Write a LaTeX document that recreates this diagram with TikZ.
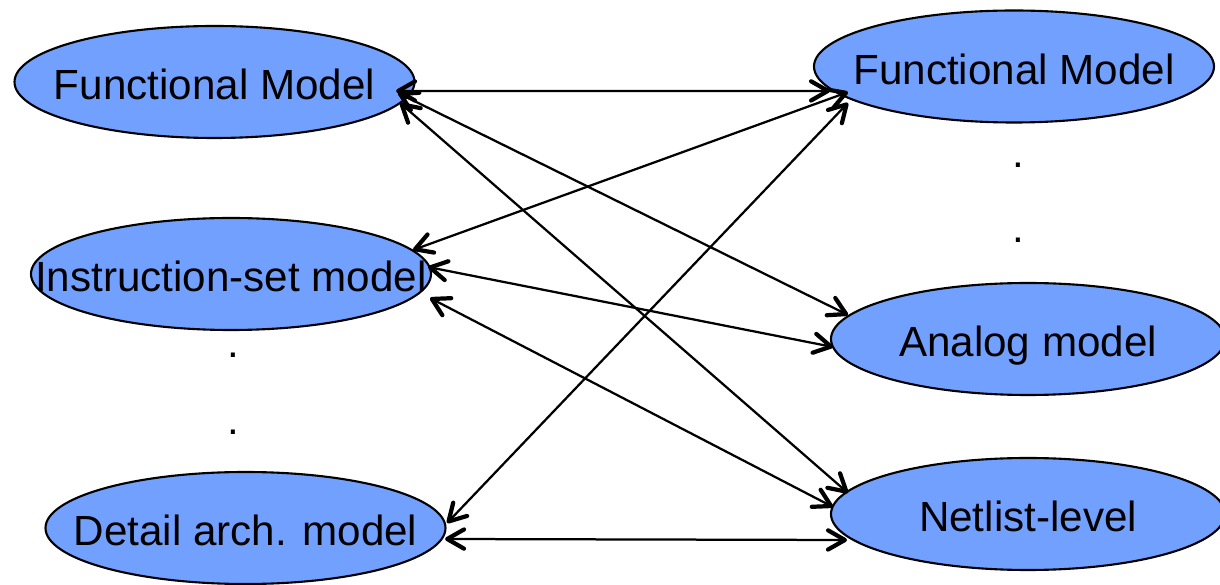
\documentclass[tikz,border=0pt]{standalone}
\usepackage{fontspec}
\setmainfont{Liberation Sans}
\usepackage{xcolor}
\usepackage{tikz}
\usetikzlibrary{calc, shapes, arrows.meta}
\definecolor{modelblue}{RGB}{114,160,255}
\tikzset{>={Straight Barb[length=0.42cm, width=0.48cm, line width=3pt, round]}}

\begin{document}
\begin{tikzpicture}[font=\fontsize{30}{36}\selectfont,
    model/.style={ellipse, draw=black, line width=1.5pt, fill=modelblue, minimum width=10cm, minimum height=2.8cm, inner sep=0pt},
    every label/.style={text height=21.5pt, text depth=0pt, inner sep=0pt, yshift=-2pt},
    link/.style={<->, line width=1.6pt}]
    \useasboundingbox (0,0) rectangle (30.5,14.6);

    % Coordinates
    \coordinate (L1) at (5.3625,12.55);
    \coordinate (L2) at (5.775,7.75);
    \coordinate (L3) at (6.1375,1.4);
    \coordinate (R1) at (25.35,12.9375);
    \coordinate (R2) at (25.7,6.125);
    \coordinate (R3) at (25.7,1.75);

    % Left models
    \node[model, label=center:Functional Model] (funcL) at (L1) {};
    \node[model, label=center:Instruction-set model] (instr) at (L2) {};
    \node[model, label=center:Detail arch. model] (detail) at (L3) {};

    % Right models
    \node[model, label=center:Functional Model] (funcR) at (R1) {};
    \node[model, minimum width=9.85cm, label=center:Analog model] (analog) at (R2) {};
    \node[model, minimum width=9.85cm, label=center:Netlist-level] (netlist) at (R3) {};

    % Dots
    \node (dotL1) at (5.825,5.725) {.};
    \node (dotL2) at (5.825,3.8) {.};
    \node (dotR1) at (25.45,10.475) {.};
    \node (dotR2) at (25.45,8.6) {.};

    % Links from the functional model
    \draw[link] ($(funcL.center)+(4.54,-0.225)$) -- ($(funcR.center)+(-4.6,-0.61)$);
    \draw[link] ($(funcL.center)+(4.59,-0.275)$) -- ($(analog.center)+(-4.5,0.6)$);
    \draw[link] ($(funcL.center)+(4.64,-0.525)$) -- ($(netlist.center)+(-4.5,0.525)$);

    % Links from the instruction-set model
    \draw[link] ($(instr.center)+(4.55,0.6)$) -- ($(funcR.center)+(-4.15,-0.64)$);
    \draw[link] ($(instr.center)+(4.925,0.175)$) -- ($(analog.center)+(-4.875,-0.2)$);
    \draw[link] ($(instr.center)+(4.975,-0.6)$) -- ($(netlist.center)+(-4.875,0.175)$);

    % Links from the detail model
    \draw[link] ($(detail.center)+(5.04,0.125)$) -- ($(funcR.center)+(-4.15,-0.91)$);
    \draw[link] ($(detail.center)+(4.99,-0.275)$) -- ($(netlist.center)+(-4.525,-0.65)$);
\end{tikzpicture}
\end{document}
